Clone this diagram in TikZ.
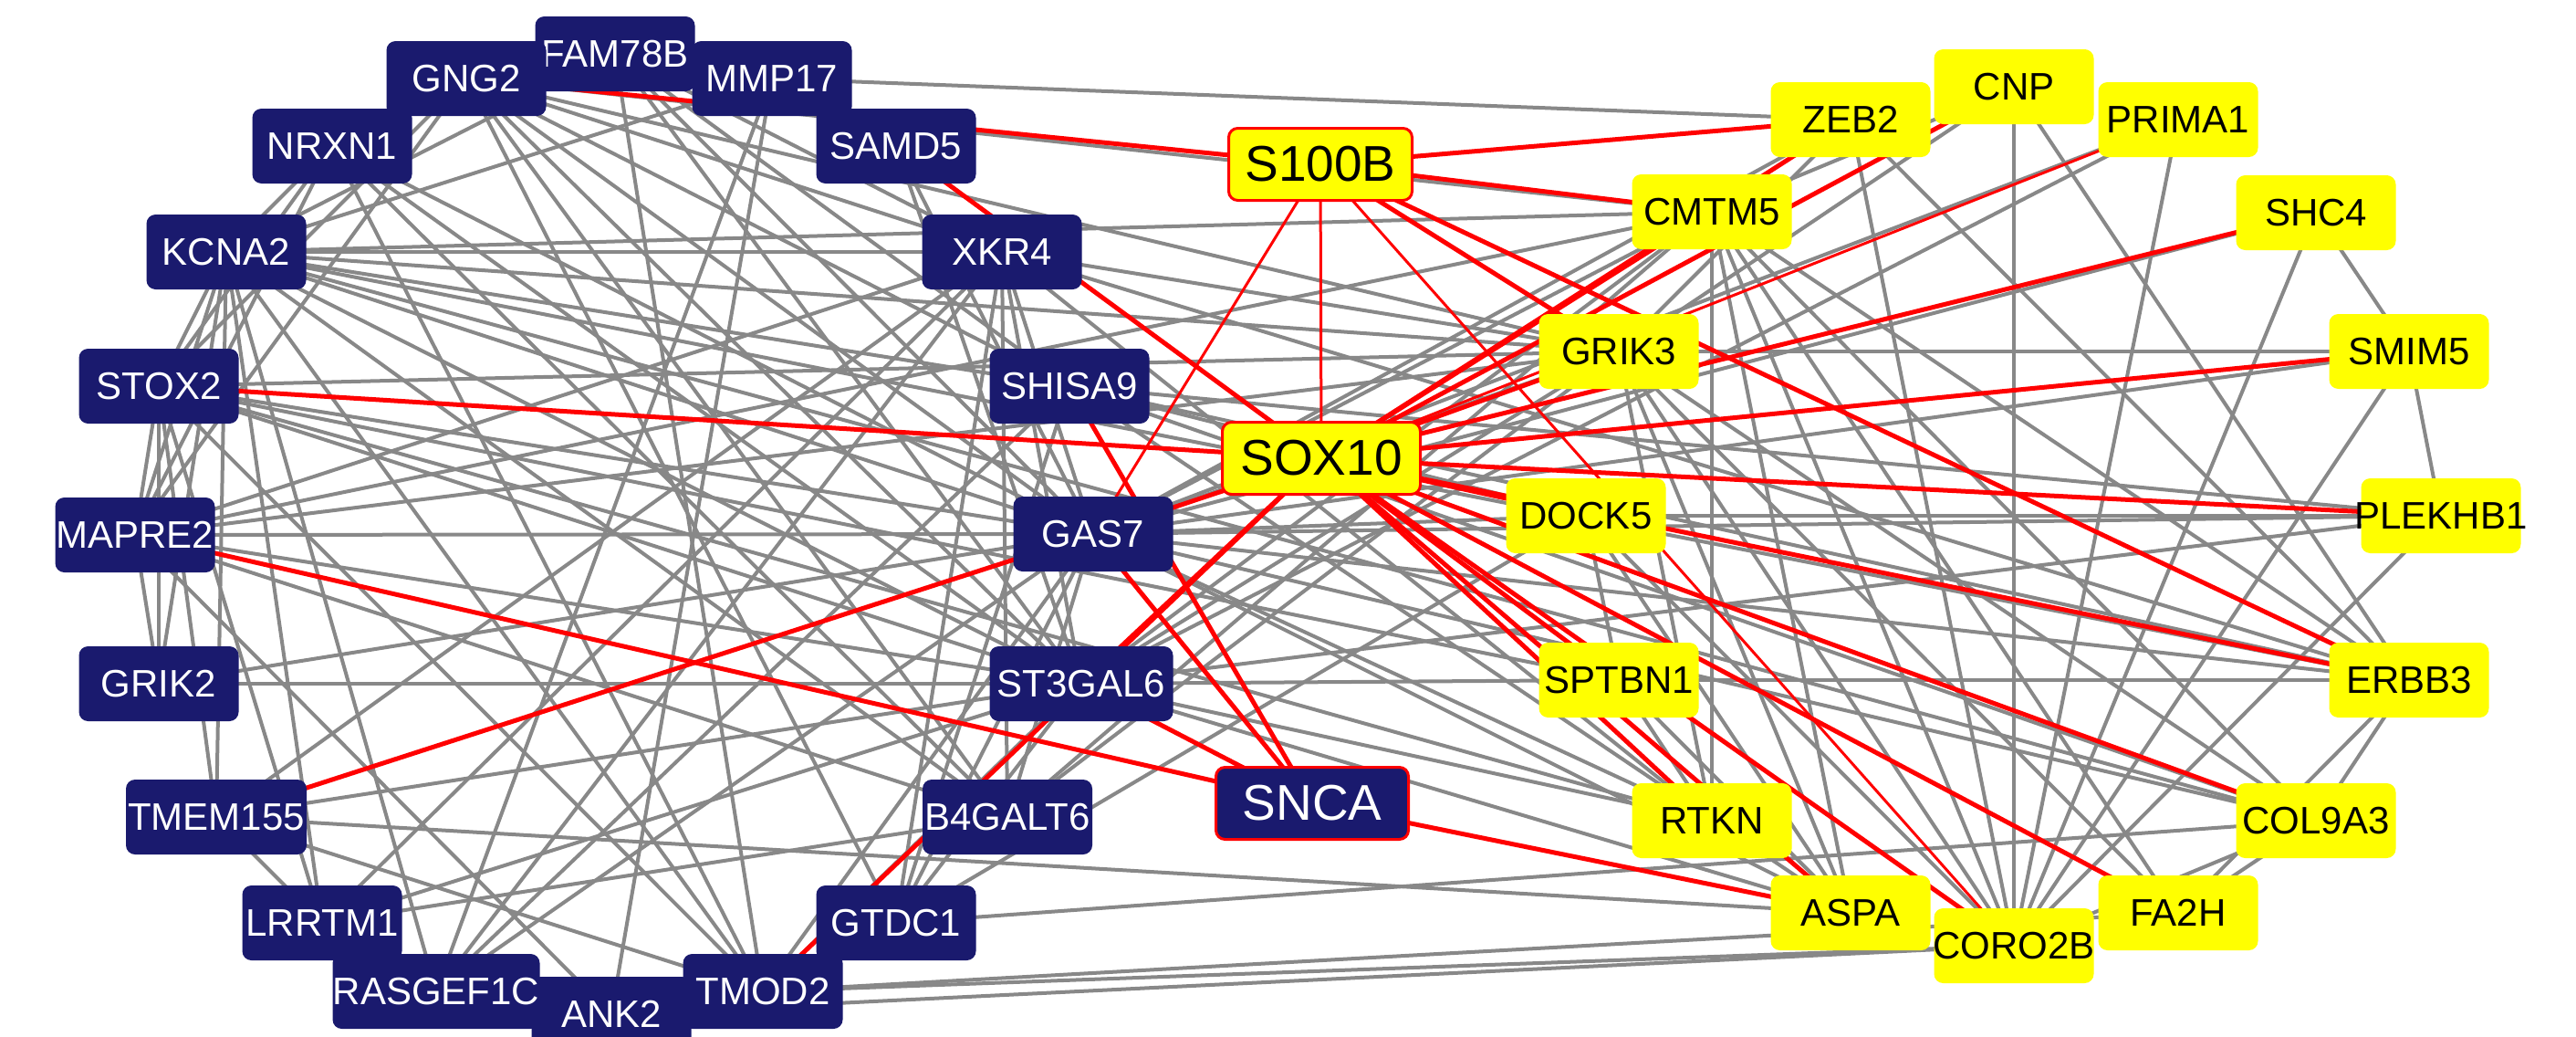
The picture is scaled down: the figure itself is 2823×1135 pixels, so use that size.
\documentclass[tikz,border=0pt]{standalone}
\usepackage{fontspec}
\setmainfont{Liberation Sans}
\pgfdeclarelayer{bgl}
\pgfdeclarelayer{edges}
\pgfsetlayers{bgl,edges,main}
\definecolor{navy}{RGB}{26,26,110}
\definecolor{edgegray}{RGB}{136,136,136}
\definecolor{hired}{RGB}{255,0,0}
\definecolor{yel}{RGB}{255,255,0}
\begin{document}
\begin{tikzpicture}[x=1pt,y=-1pt,
  gn/.style={rectangle, rounded corners=10pt, fill=navy, text=white, minimum width=175pt, minimum height=82pt, inner sep=0pt, font=\fontsize{42}{48}\selectfont},
  yn/.style={rectangle, rounded corners=10pt, fill=yel, text=black, minimum width=175pt, minimum height=82pt, inner sep=0pt, font=\fontsize{42}{48}\selectfont},
  big/.style={font=\fontsize{55}{60}\selectfont, draw=hired, line width=3pt, minimum height=79pt},
  ge/.style={draw=edgegray, line width=4pt},
  re/.style={draw=hired, line width=5pt},
  rt/.style={draw=hired, line width=3pt}]
\useasboundingbox (0,0) rectangle (2823,1135);
\begin{pgfonlayer}{bgl}
\fill[white] (0,0) rectangle (2823,1135);
\end{pgfonlayer}
% left group (navy)
\node[gn] (FAM78B) at (674,59) {FAM78B};
\node[gn] (GNG2) at (511,86) {GNG2};
\node[gn] (MMP17) at (846,86) {MMP17};
\node[gn] (NRXN1) at (364,160) {NRXN1};
\node[gn] (SAMD5) at (982,160) {SAMD5};
\node[gn] (KCNA2) at (248,276) {KCNA2};
\node[gn] (XKR4) at (1098,276) {XKR4};
\node[gn] (STOX2) at (174,423) {STOX2};
\node[gn] (SHISA9) at (1172,423) {SHISA9};
\node[gn] (MAPRE2) at (148,586) {MAPRE2};
\node[gn] (GAS7) at (1198,585) {GAS7};
\node[gn] (GRIK2) at (174,749) {GRIK2};
\node[gn, minimum width=201pt] (ST3GAL6) at (1185,749) {ST3GAL6};
\node[gn, minimum width=198pt] (TMEM155) at (237,895) {TMEM155};
\node[gn, minimum width=186pt] (B4GALT6) at (1104,895) {B4GALT6};
\node[gn] (LRRTM1) at (353,1011) {LRRTM1};
\node[gn] (GTDC1) at (982,1011) {GTDC1};
\node[gn] (ANK2) at (670,1111) {ANK2};
\node[gn, minimum width=227pt] (RASGEF1C) at (478,1086) {RASGEF1C};
\node[gn] (TMOD2) at (836,1086) {TMOD2};
\node[gn, big, minimum width=211pt] (SNCA) at (1438,880) {SNCA};
% right group (yellow)
\node[yn, big, minimum width=201pt] (S100B) at (1447,180) {S100B};
\node[yn, big, minimum width=217pt] (SOX10) at (1448,502) {SOX10};
\node[yn] (CNP) at (2207,95) {CNP};
\node[yn] (ZEB2) at (2028,131) {ZEB2};
\node[yn] (PRIMA1) at (2387,131) {PRIMA1};
\node[yn] (CMTM5) at (1876,232) {CMTM5};
\node[yn] (SHC4) at (2538,233) {SHC4};
\node[yn] (GRIK3) at (1774,385) {GRIK3};
\node[yn] (SMIM5) at (2640,385) {SMIM5};
\node[yn] (DOCK5) at (1738,565) {DOCK5};
\node[yn] (PLEKHB1) at (2675,565) {\makebox[0pt]{PLEKHB1}};
\node[yn] (SPTBN1) at (1774,745) {SPTBN1};
\node[yn] (ERBB3) at (2640,745) {ERBB3};
\node[yn] (RTKN) at (1876,899) {RTKN};
\node[yn] (COL9A3) at (2538,899) {COL9A3};
\node[yn] (ASPA) at (2028,1000) {ASPA};
\node[yn] (FA2H) at (2387,1000) {FA2H};
\node[yn] (CORO2B) at (2207,1036) {\makebox[0pt]{CORO2B}};
\begin{pgfonlayer}{edges}
\foreach \a/\b in {GNG2/MAPRE2, KCNA2/FAM78B, KCNA2/MMP17, KCNA2/NRXN1, NRXN1/STOX2, NRXN1/MAPRE2, KCNA2/XKR4, KCNA2/STOX2, KCNA2/MAPRE2, KCNA2/GRIK2, KCNA2/TMEM155, KCNA2/LRRTM1, KCNA2/RASGEF1C, KCNA2/TMOD2, KCNA2/SHISA9, KCNA2/GAS7, KCNA2/ST3GAL6, KCNA2/B4GALT6, KCNA2/CMTM5, KCNA2/GRIK3, KCNA2/COL9A3, KCNA2/ERBB3,
 MMP17/ZEB2, MMP17/RASGEF1C, MMP17/ANK2,
 GNG2/CMTM5, GNG2/GRIK3, GNG2/XKR4, GNG2/SHISA9, GNG2/GAS7, GNG2/ST3GAL6, GNG2/B4GALT6, GNG2/GTDC1, GNG2/STOX2,
 FAM78B/GAS7, FAM78B/ST3GAL6, FAM78B/SHISA9, FAM78B/XKR4, FAM78B/TMOD2,
 NRXN1/TMOD2, NRXN1/GAS7, NRXN1/B4GALT6, NRXN1/ST3GAL6,
 SAMD5/GAS7, SAMD5/ST3GAL6,
 XKR4/B4GALT6, XKR4/GAS7, XKR4/ST3GAL6, XKR4/LRRTM1, XKR4/RASGEF1C, XKR4/TMEM155, XKR4/GRIK3, XKR4/ERBB3, XKR4/RTKN,
 STOX2/GRIK3, STOX2/MAPRE2, STOX2/GRIK2, STOX2/TMEM155, STOX2/LRRTM1, STOX2/GAS7, STOX2/ST3GAL6, STOX2/SPTBN1, STOX2/RTKN, STOX2/TMOD2,
 MAPRE2/GAS7, MAPRE2/GRIK2, MAPRE2/GRIK3, MAPRE2/CMTM5, MAPRE2/ST3GAL6, MAPRE2/B4GALT6, MAPRE2/ANK2, MAPRE2/XKR4,
 GRIK2/ST3GAL6, GRIK2/GAS7,
 TMEM155/ASPA, TMEM155/ST3GAL6, TMEM155/LRRTM1, TMEM155/TMOD2,
 LRRTM1/B4GALT6, LRRTM1/ST3GAL6,
 RASGEF1C/SHISA9, RASGEF1C/GAS7,
 ANK2/CORO2B, TMOD2/CORO2B, TMOD2/FA2H, TMOD2/GAS7, TMOD2/ST3GAL6,
 GTDC1/COL9A3, GTDC1/ST3GAL6, GTDC1/GAS7, GTDC1/SHISA9, GTDC1/DOCK5, GTDC1/XKR4,
 B4GALT6/GRIK3, B4GALT6/CMTM5, B4GALT6/GAS7,
 GAS7/DOCK5, GAS7/PLEKHB1, GAS7/SMIM5, GAS7/SHC4, GAS7/PRIMA1, GAS7/CMTM5, GAS7/GRIK3, GAS7/ERBB3, GAS7/COL9A3, GAS7/RTKN, GAS7/ASPA, GAS7/ZEB2,
 ST3GAL6/SPTBN1, ST3GAL6/PRIMA1, ST3GAL6/CMTM5, ST3GAL6/GRIK3, ST3GAL6/ASPA, ST3GAL6/RTKN, ST3GAL6/PLEKHB1,
 SHISA9/ERBB3, SHISA9/COL9A3, SHISA9/DOCK5, SHISA9/ASPA, SHISA9/PLEKHB1,
 SPTBN1/ERBB3, DOCK5/PLEKHB1, DOCK5/SPTBN1, DOCK5/ASPA, DOCK5/CORO2B,
 CNP/CORO2B, CNP/CMTM5, CNP/GRIK3, CNP/ERBB3,
 PRIMA1/CORO2B, SHC4/SMIM5, SHC4/CORO2B, SMIM5/PLEKHB1, SMIM5/CORO2B, GRIK3/SMIM5, PLEKHB1/CORO2B,
 ERBB3/COL9A3, ERBB3/FA2H, ZEB2/ERBB3, CMTM5/ERBB3,
 COL9A3/CORO2B, COL9A3/FA2H,
 GRIK3/RTKN, GRIK3/ASPA, GRIK3/CORO2B, GRIK3/FA2H, GRIK3/COL9A3,
 CMTM5/CORO2B, CMTM5/FA2H, CMTM5/COL9A3, CMTM5/ASPA, CMTM5/RTKN,
 ZEB2/CORO2B, ZEB2/GRIK3,
 SPTBN1/RTKN, SPTBN1/ASPA}
  \draw[ge] (\a.center) -- (\b.center);
\foreach \a/\b in {GNG2/S100B, S100B/ZEB2, S100B/CMTM5, S100B/GRIK3, S100B/ERBB3, SAMD5/SOX10, STOX2/SOX10, SOX10/CMTM5, SOX10/ZEB2, SOX10/CNP, SOX10/GRIK3, SOX10/SHC4, SOX10/SMIM5, SOX10/PLEKHB1, SOX10/DOCK5, SOX10/ERBB3, SOX10/COL9A3, SOX10/FA2H, SOX10/SPTBN1, SOX10/RTKN, SOX10/ASPA, SOX10/CORO2B, SOX10/GAS7, SOX10/ST3GAL6, SOX10/TMOD2, GAS7/SNCA, SHISA9/SNCA, ST3GAL6/SNCA, MAPRE2/SNCA, SNCA/ASPA, TMEM155/GAS7}
  \draw[re] (\a.center) -- (\b.center);
\foreach \a/\b in {S100B/SOX10, S100B/GAS7, S100B/CORO2B, SOX10/PRIMA1}
  \draw[rt] (\a.center) -- (\b.center);
\end{pgfonlayer}
\end{tikzpicture}
\end{document}
